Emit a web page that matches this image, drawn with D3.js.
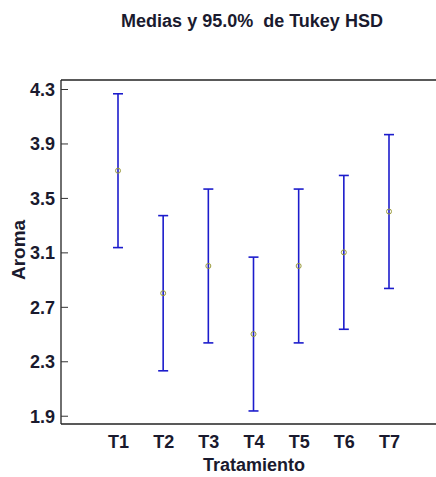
<!DOCTYPE html>
<html><head><meta charset="utf-8">
<script src="https://cdn.jsdelivr.net/npm/d3@7"></script>
<style>body{margin:0;background:#fff}svg{display:block}</style>
</head><body>
<script>
const categories = ["T1","T2","T3","T4","T5","T6","T7"];
const means = [3.70, 2.80, 3.00, 2.50, 3.00, 3.10, 3.40];
const lower = [3.135, 2.23, 2.435, 1.935, 2.435, 2.535, 2.835];
const upper = [4.265, 3.37, 3.565, 3.065, 3.565, 3.665, 3.965];
const yTicks = [1.9, 2.3, 2.7, 3.1, 3.5, 3.9, 4.3];

const W = 436, H = 477;
const svg = d3.select("body").append("svg").attr("width", W).attr("height", H);
const pL = 61, pT = 80, pB = 424, pR = 436;
const y = d3.scaleLinear().domain([1.8392, 4.3662]).range([pB, pT]);
const x = d3.scalePoint().domain(categories).range([118, 389]);
const txtCol = "#1a1a2e";
const font = "Liberation Sans, Arial, sans-serif";

svg.append("text").attr("x", 252).attr("y", 27).attr("text-anchor","middle")
  .attr("xml:space","preserve").style("white-space","pre")
  .attr("font-family", font).attr("font-weight","bold").attr("font-size", 18)
  .attr("fill", txtCol).text("Medias y 95.0%  de Tukey HSD");

svg.append("line").attr("x1", pL).attr("x2", pR).attr("y1", pT).attr("y2", pT).attr("stroke","#222").attr("stroke-width",1.3);
svg.append("line").attr("x1", pL).attr("x2", pR).attr("y1", pB).attr("y2", pB).attr("stroke","#222").attr("stroke-width",1.3);

const yAxis = d3.axisRight(y).tickValues(yTicks).tickSize(7).tickFormat(d3.format(".1f"));
const gy = svg.append("g").attr("transform", `translate(${pL},0)`).call(yAxis);
gy.select(".domain").attr("stroke","#222").attr("stroke-width",1.3).attr("d", `M0,${pT}V${pB}`);
gy.selectAll(".tick line").attr("stroke","#333");
gy.selectAll(".tick text").attr("x", -6).attr("text-anchor","end").attr("dy","0.35em")
  .attr("font-family", font).attr("font-weight","bold").attr("font-size", 18).attr("fill", txtCol);

const xAxis = d3.axisBottom(x).tickSize(0);
const gx = svg.append("g").attr("transform", `translate(0,${pB})`).call(xAxis);
gx.select(".domain").remove();
gx.selectAll(".tick text").attr("y", 24).attr("dy", null)
  .attr("font-family", font).attr("font-weight","bold").attr("font-size", 18).attr("fill", txtCol);

svg.append("text").attr("x", 254).attr("y", 471).attr("text-anchor","middle")
  .attr("font-family", font).attr("font-weight","bold").attr("font-size", 18).attr("fill", txtCol).text("Tratamiento");
svg.append("text").attr("transform", "translate(25,250) rotate(-90)").attr("text-anchor","middle")
  .attr("font-family", font).attr("font-weight","bold").attr("font-size", 19).attr("fill", txtCol).text("Aroma");

const blue = "#1c1ccc";
const g = svg.append("g");
categories.forEach((c, i) => {
  const cx = x(c);
  g.append("line").attr("x1", cx).attr("x2", cx).attr("y1", y(lower[i])).attr("y2", y(upper[i])).attr("stroke", blue).attr("stroke-width", 1.6);
  [lower[i], upper[i]].forEach(v => {
    g.append("line").attr("x1", cx-5).attr("x2", cx+5).attr("y1", y(v)).attr("y2", y(v)).attr("stroke", blue).attr("stroke-width", 1.6);
  });
  g.append("circle").attr("cx", cx).attr("cy", y(means[i])).attr("r", 2.5).attr("fill","none").attr("stroke","#9a9a3a").attr("stroke-width",1);
});
</script>
</body></html>
